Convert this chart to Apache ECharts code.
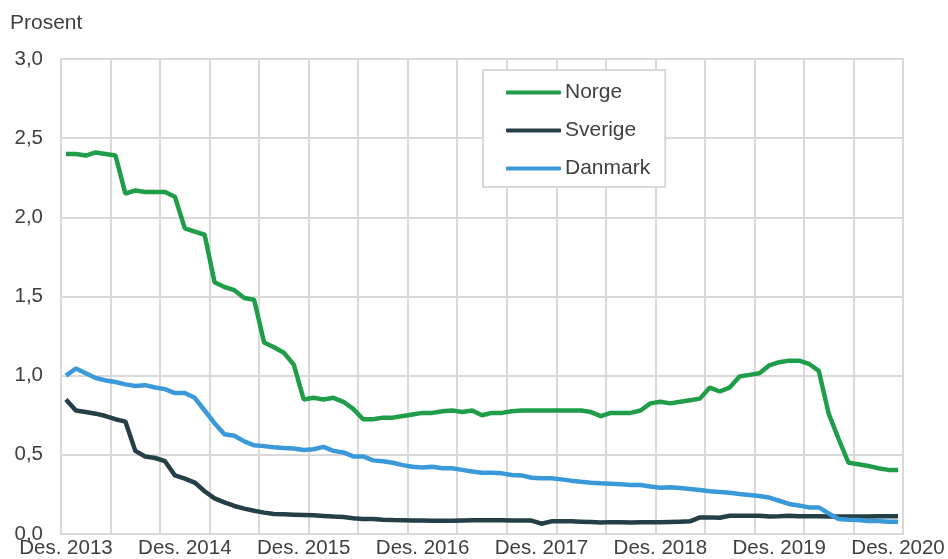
<!DOCTYPE html>
<html>
<head>
<meta charset="utf-8">
<script src="https://cdn.jsdelivr.net/npm/echarts@6/dist/echarts.min.js"></script>
<style>
  html, body { margin: 0; padding: 0; background: #fff; }
  #chart { width: 948px; height: 559px; }
</style>
</head>
<body>
<div id="chart"></div>
<script>
// månedlige observasjoner, des. 2013 - des. 2020
const monthNames = ['Jan.', 'Feb.', 'Mar.', 'Apr.', 'Mai', 'Jun.', 'Jul.', 'Aug.', 'Sep.', 'Okt.', 'Nov.', 'Des.']
const categories = ['Des. 2013']
for (let y = 2014; y <= 2020; y++) {
  for (let m = 0; m < 12; m++) categories.push(monthNames[m] + ' ' + y)
}

const norge = [
  2.40, 2.40, 2.39, 2.41, 2.40, 2.39, 2.15, 2.17, 2.16, 2.16, 2.16, 2.13,
  1.93, 1.91, 1.89, 1.59, 1.56, 1.54, 1.49, 1.48, 1.21, 1.18, 1.145, 1.07,
  0.85, 0.86, 0.85, 0.86, 0.835, 0.79, 0.725, 0.725, 0.735, 0.735, 0.745, 0.755,
  0.765, 0.765, 0.775, 0.78, 0.77, 0.78, 0.75, 0.765, 0.765, 0.775, 0.78, 0.78,
  0.78, 0.78, 0.78, 0.78, 0.78, 0.77, 0.745, 0.765, 0.765, 0.765, 0.78, 0.825,
  0.835, 0.825, 0.835, 0.845, 0.855, 0.925, 0.90, 0.925, 0.995, 1.005, 1.015, 1.065,
  1.085, 1.095, 1.095, 1.075, 1.03, 0.76, 0.6, 0.45, 0.44, 0.43, 0.415, 0.405,
  0.405
]
const sverige = [
  0.85, 0.78, 0.77, 0.76, 0.745, 0.725, 0.71, 0.525, 0.49, 0.48, 0.46, 0.37,
  0.35, 0.325, 0.27, 0.225, 0.20, 0.177, 0.16, 0.147, 0.135, 0.126, 0.124, 0.122,
  0.12, 0.118, 0.114, 0.11, 0.107, 0.10, 0.095, 0.094, 0.09, 0.088, 0.087, 0.085,
  0.085, 0.083, 0.083, 0.083, 0.085, 0.087, 0.087, 0.087, 0.087, 0.085, 0.085, 0.085,
  0.065, 0.08, 0.08, 0.08, 0.078, 0.076, 0.072, 0.075, 0.074, 0.072, 0.074, 0.074,
  0.074, 0.076, 0.078, 0.08, 0.105, 0.105, 0.103, 0.115, 0.115, 0.116, 0.115, 0.11,
  0.112, 0.115, 0.112, 0.112, 0.112, 0.11, 0.11, 0.11, 0.11, 0.11, 0.112, 0.112,
  0.112
]
const danmark = [
  1.0, 1.045, 1.015, 0.985, 0.97, 0.96, 0.945, 0.935, 0.94, 0.925, 0.915, 0.89,
  0.89, 0.86, 0.78, 0.70, 0.63, 0.62, 0.585, 0.56, 0.555, 0.548, 0.543, 0.54,
  0.53, 0.535, 0.55, 0.525, 0.515, 0.49, 0.49, 0.465, 0.46, 0.45, 0.435, 0.425,
  0.42, 0.425, 0.415, 0.415, 0.405, 0.395, 0.387, 0.387, 0.383, 0.373, 0.37, 0.355,
  0.352, 0.352, 0.345, 0.337, 0.33, 0.324, 0.32, 0.318, 0.314, 0.31, 0.31, 0.30,
  0.292, 0.295, 0.29, 0.284, 0.278, 0.27, 0.265, 0.26, 0.253, 0.247, 0.24, 0.23,
  0.21, 0.19, 0.18, 0.168, 0.168, 0.13, 0.095, 0.09, 0.088, 0.082, 0.082, 0.078,
  0.078
]

const colors = ['#1f9d48', '#253f46', '#3a99d8']
const font = '"Liberation Sans", Arial, sans-serif'

const myChart = echarts.init(document.getElementById('chart'))
const option = {
  animation: false,
  textStyle: { fontFamily: font },
  color: colors,
  grid: {
    show: true,
    left: 61,
    right: 45,
    top: 59,
    bottom: 25,
    borderColor: '#d9d9d9',
    borderWidth: 2
  },
  graphic: [{
    type: 'text',
    left: 10,
    top: 13,
    style: { text: 'Prosent', fontSize: 21, fill: '#404040', fontFamily: font }
  }],
  legend: {
    orient: 'vertical',
    left: 483,
    top: 70,
    padding: [12, 15, 8, 23],
    itemGap: 17,
    itemWidth: 55,
    itemHeight: 4,
    icon: 'roundRect',
    borderColor: '#d9d9d9',
    borderWidth: 2,
    backgroundColor: '#fff',
    textStyle: { fontSize: 21, color: '#404040', fontFamily: font, padding: [0, 0, 0, -1] },
    data: ['Norge', 'Sverige', 'Danmark']
  },
  xAxis: {
    type: 'category',
    boundaryGap: true,
    data: categories,
    axisLine: { show: false },
    axisTick: { show: false },
    axisLabel: {
      interval: 11,
      margin: 4,
      fontSize: 20.5,
      color: '#404040',
      fontFamily: font
    },
    splitLine: {
      show: true,
      interval: 4,
      lineStyle: { color: '#d9d9d9', width: 2 }
    }
  },
  yAxis: {
    type: 'value',
    min: 0,
    max: 3,
    interval: 0.5,
    axisLine: { show: false },
    axisTick: { show: false },
    axisLabel: {
      margin: 18,
      fontSize: 20.5,
      color: '#404040',
      fontFamily: font,
      formatter: v => v.toFixed(1).replace('.', ',')
    },
    splitLine: { lineStyle: { color: '#d9d9d9', width: 2 } }
  },
  series: [
    { name: 'Norge', type: 'line', data: norge, symbol: 'none', lineStyle: { width: 4.5 } },
    { name: 'Sverige', type: 'line', data: sverige, symbol: 'none', lineStyle: { width: 4.5 } },
    { name: 'Danmark', type: 'line', data: danmark, symbol: 'none', lineStyle: { width: 4.5 } }
  ]
}
myChart.setOption(option)
</script>
</body>
</html>
